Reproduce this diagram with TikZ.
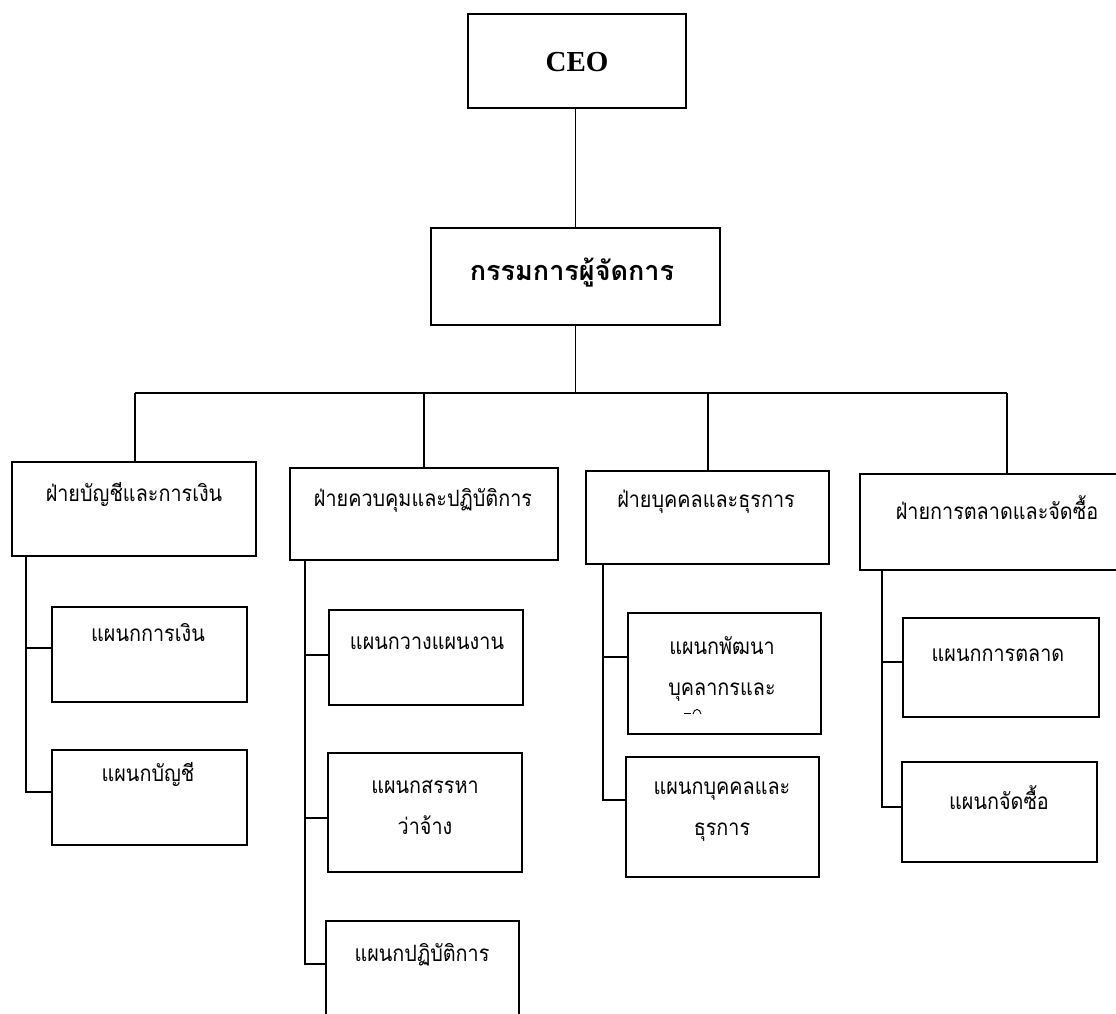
\documentclass[tikz,border=0pt]{standalone}
\usepackage{fontspec}
\setmainfont{Liberation Serif}
\newfontfamily\thai[Script=Thai,FakeStretch=0.88]{Loma}
\newfontfamily\thaibold[Script=Thai]{Loma}
\newcommand\thaitxt{\thai\fontsize{22.5}{41}\selectfont}
\tikzset{
  box/.style={draw, line width=1.5pt, inner sep=0pt},
  ln/.style={line width=1.5pt},
  th/.style={font=\thaitxt, align=center, inner sep=0pt, anchor=center},
}
\begin{document}
\begin{tikzpicture}[x=1pt,y=-1pt]
\useasboundingbox (0,0) rectangle (1116,1014);
\clip (0,0) rectangle (1116,1014);
% boxes
\node[box, minimum width=218pt, minimum height=94pt] (ceo) at (577,61) {};
\node[box, minimum width=289pt, minimum height=97pt] (md) at (575.5,276.5) {};
\node[box, minimum width=244pt, minimum height=94pt] (d1) at (134,509) {};
\node[box, minimum width=268pt, minimum height=92pt] (d2) at (424,514) {};
\node[box, minimum width=243pt, minimum height=93pt] (d3) at (707.5,517.5) {};
\node[box, minimum width=280pt, minimum height=96pt] (d4) at (1000,522) {};
\node[box, minimum width=195pt, minimum height=95pt] (s11) at (149.5,654.5) {};
\node[box, minimum width=195pt, minimum height=95pt] (s12) at (149.5,797.5) {};
\node[box, minimum width=194pt, minimum height=95pt] (s21) at (426,657.5) {};
\node[box, minimum width=194pt, minimum height=119pt] (s22) at (425,812.5) {};
\node[box, minimum width=193pt, minimum height=119pt] (s23) at (422.5,980.5) {};
\node[box, minimum width=193pt, minimum height=121pt] (s31) at (724.5,673.5) {};
\node[box, minimum width=193pt, minimum height=120pt] (s32) at (722.5,817) {};
\node[box, minimum width=196pt, minimum height=99pt] (s41) at (1001,667.5) {};
\node[box, minimum width=195pt, minimum height=100pt] (s42) at (999.5,812) {};
% texts
\node[inner sep=0pt, font=\bfseries\fontsize{29}{34}\selectfont] (tceo) at (577,62) {CEO};
\node[th, font=\thaibold\bfseries\fontsize{27}{32}\selectfont] (tmd) at (572,273) {กรรมการผู้จัดการ};
\node[th] (td1) at (134,495) {ฝ่ายบัญชีและการเงิน};
\node[th] (td2) at (423,500) {ฝ่ายควบคุมและปฏิบัติการ};
\node[th] (td3) at (706,502) {ฝ่ายบุคคลและธุรการ};
\node[th] (td4) at (997,508) {ฝ่ายการตลาดและจัดซื้อ};
\node[th] (ts11) at (148,633) {แผนกการเงิน};
\node[th] (ts12) at (148,775) {แผนกบัญชี};
\node[th] (ts21) at (427,643) {แผนกวางแผนงาน};
\node[th] (ts22) at (425,807) {แผนกสรรหา\\ว่าจ้าง};
\node[th] (ts23) at (422,955) {แผนกปฏิบัติการ};
\node[th] (ts31) at (722,669) {แผนกพัฒนา\\บุคลากรและ};
\node[th] (ts32) at (722,812) {แผนกบุคคลและ\\ธุรการ};
\node[th] (ts41) at (998,655) {แผนกการตลาด};
\node[th] (ts42) at (999,798) {แผนกจัดซื้อ};
% clipped fragment of a third line in s31
\draw[line width=0.8pt] (684,713) -- (691,713);
\draw[line width=0.9pt] (693,714) .. controls (694,708) and (700,708) .. (701,714);
% connectors
\coordinate (b1) at (135,393);
\coordinate (b2) at (424,393);
\coordinate (b3) at (708,393);
\coordinate (b4) at (1007,393);
\draw[ln] (md.north) -- (md.north |- ceo.south);
\draw[ln] (md.south) -- (md.south |- b1);
\draw[ln] (b1) -- (b4);
\draw[ln] (b1) -- (b1 |- d1.north);
\draw[ln] (b2) -- (b2 |- d2.north);
\draw[ln] (b3) -- (b3 |- d3.north);
\draw[ln] (b4) -- (b4 |- d4.north);
% branches
\coordinate (k11) at (26,648);
\coordinate (k12) at (26,792);
\coordinate (k21) at (305,655);
\coordinate (k22) at (305,818);
\coordinate (k23) at (305,964);
\coordinate (k31) at (603,657);
\coordinate (k32) at (603,800);
\coordinate (k41) at (882,662);
\coordinate (k42) at (882,807);
\draw[ln] (k11 |- d1.south) -- (k12) -- (k12 -| s12.west);
\draw[ln] (k11) -- (k11 -| s11.west);
\draw[ln] (k21 |- d2.south) -- (k23) -- (k23 -| s23.west);
\draw[ln] (k21) -- (k21 -| s21.west);
\draw[ln] (k22) -- (k22 -| s22.west);
\draw[ln] (k31 |- d3.south) -- (k32) -- (k32 -| s32.west);
\draw[ln] (k31) -- (k31 -| s31.west);
\draw[ln] (k41 |- d4.south) -- (k42) -- (k42 -| s42.west);
\draw[ln] (k41) -- (k41 -| s41.west);
\end{tikzpicture}
\end{document}
